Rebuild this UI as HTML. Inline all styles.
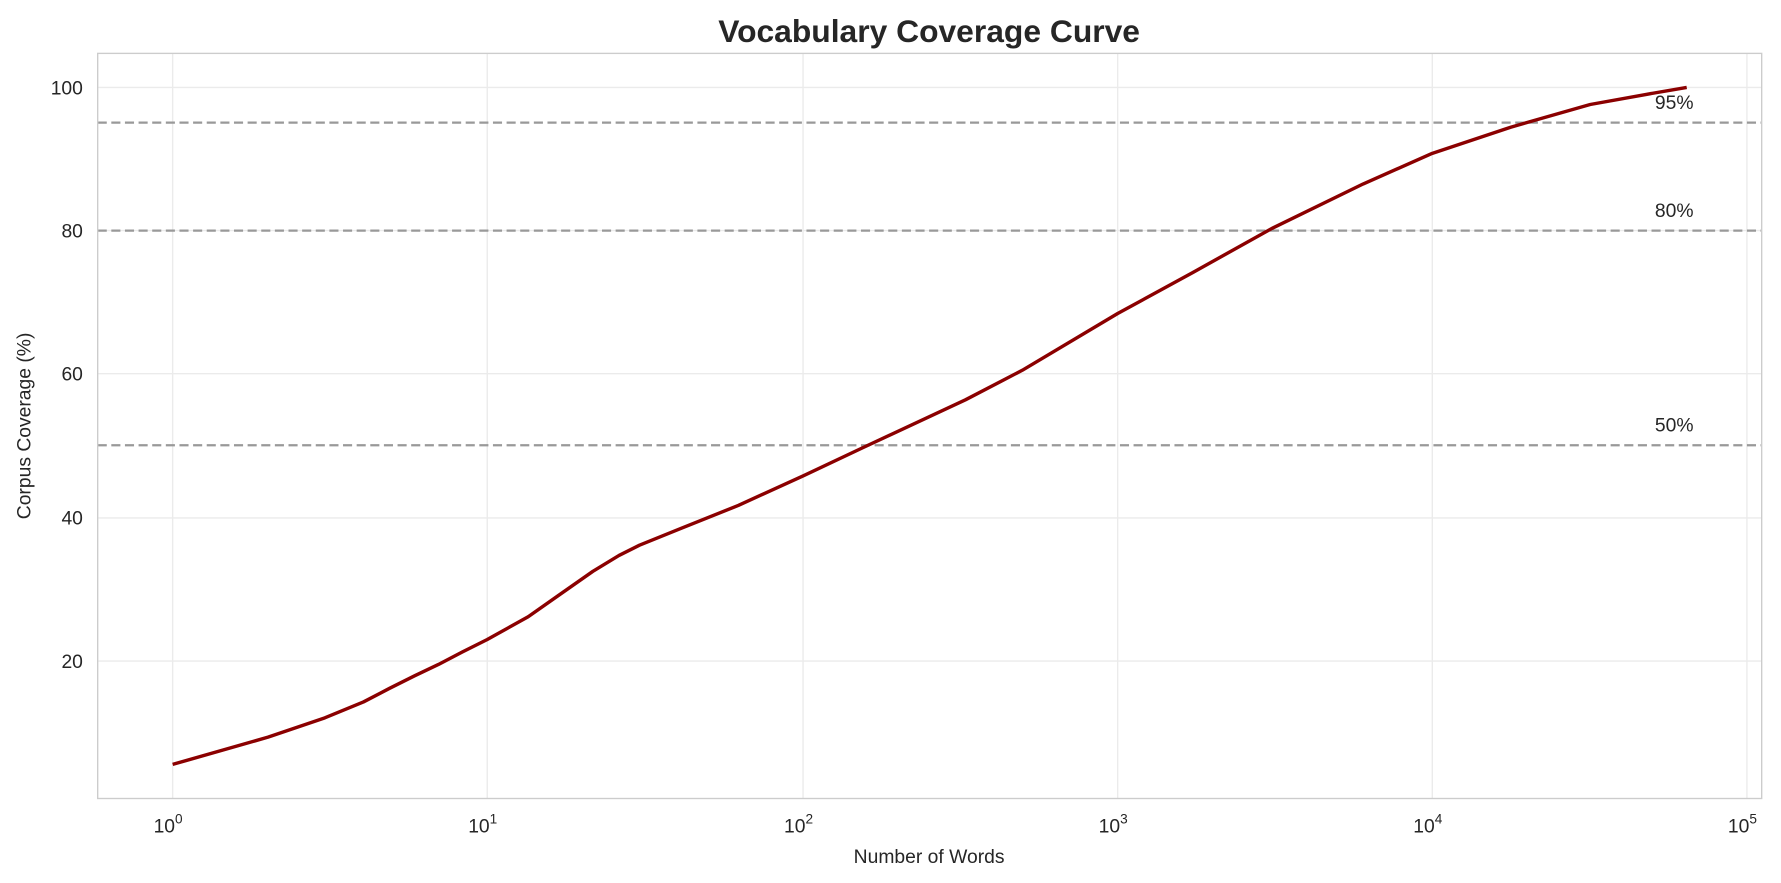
<!DOCTYPE html>
<html><head><meta charset="utf-8"><style>
html,body{margin:0;padding:0;background:#fff;overflow:hidden;width:100%;height:100%;}
svg{display:block;width:100vw;height:100vh;font-family:"Liberation Sans","DejaVu Sans",sans-serif;}
</style></head><body>
<svg viewBox="0 0 1568 777.4" preserveAspectRatio="none" xmlns="http://www.w3.org/2000/svg">
<rect width="1568" height="778" fill="#fff"/>
<text x="818" y="37" font-size="28" font-weight="bold" text-anchor="middle" fill="#262626">Vocabulary Coverage Curve</text>
<g stroke="#ebebeb" stroke-width="1.2">
<line x1="152" y1="47" x2="152" y2="703"/><line x1="429" y1="47" x2="429" y2="703"/>
<line x1="707" y1="47" x2="707" y2="703"/><line x1="984" y1="47" x2="984" y2="703"/>
<line x1="1261" y1="47" x2="1261" y2="703"/><line x1="1538" y1="47" x2="1538" y2="703"/>
<line x1="86" y1="77" x2="1551" y2="77"/><line x1="86" y1="203" x2="1551" y2="203"/>
<line x1="86" y1="329" x2="1551" y2="329"/><line x1="86" y1="456" x2="1551" y2="456"/>
<line x1="86" y1="582" x2="1551" y2="582"/>
</g>
<g stroke="#999" stroke-width="2" stroke-dasharray="8,4">
<line x1="86" y1="108" x2="1551" y2="108"/>
<line x1="86" y1="203" x2="1551" y2="203"/>
<line x1="86" y1="392" x2="1551" y2="392"/>
</g>
<g font-size="17" fill="#262626">
<text x="1457" y="96">95%</text><text x="1457" y="191">80%</text><text x="1457" y="380">50%</text>
</g>
<polyline fill="none" stroke="#8b0000" stroke-width="3" stroke-linejoin="round" points="152,673 236,649 286,632 320,618 343,606 365,595 386,585 407,574 429,563 465,543 492,524 522,503 545,489 563,480 600,465 650,445 707,419 760,394 850,352 900,326 984,276 1050,240 1120,201 1200,162 1261,135 1330,112 1400,92 1450,83 1485,77"/>
<rect x="86" y="47" width="1465" height="656" fill="none" stroke="#ccc" stroke-width="1.2"/>
<g font-size="17" fill="#262626" text-anchor="end">
<text x="73" y="83">100</text><text x="73" y="209">80</text><text x="73" y="335">60</text>
<text x="73" y="462">40</text><text x="73" y="588">20</text>
</g>
<g font-size="17" fill="#262626" text-anchor="middle">
<text x="148" y="733">10<tspan font-size="12" dy="-8">0</tspan></text>
<text x="425" y="733">10<tspan font-size="12" dy="-8">1</tspan></text>
<text x="703" y="733">10<tspan font-size="12" dy="-8">2</tspan></text>
<text x="980" y="733">10<tspan font-size="12" dy="-8">3</tspan></text>
<text x="1257" y="733">10<tspan font-size="12" dy="-8">4</tspan></text>
<text x="1534" y="733">10<tspan font-size="12" dy="-8">5</tspan></text>
</g>
<text x="818" y="760" font-size="17" text-anchor="middle" fill="#262626">Number of Words</text>
<text transform="translate(27,375) rotate(-90)" font-size="17" text-anchor="middle" fill="#262626">Corpus Coverage (%)</text>
</svg>
</body></html>
